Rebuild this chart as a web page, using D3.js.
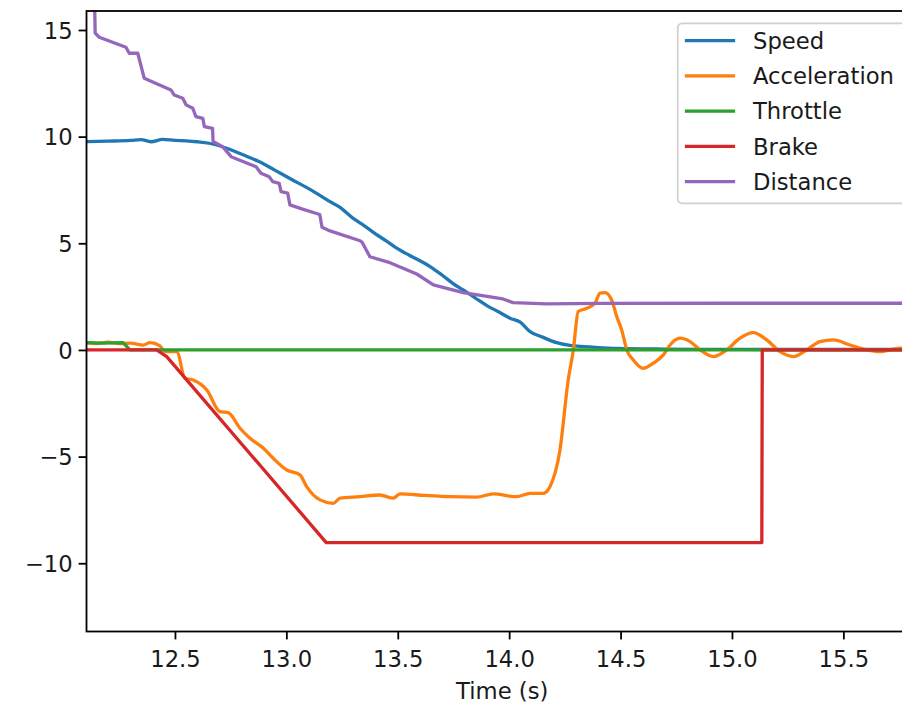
<!DOCTYPE html>
<html>
<head>
<meta charset="utf-8">
<script src="https://cdn.jsdelivr.net/npm/d3@7"></script>
<style>
html, body { margin: 0; padding: 0; background: #fff; overflow: hidden; }
svg { display: block; font-family: "DejaVu Sans", sans-serif; }
</style>
</head>
<body>
<svg id="chart" width="902" height="704"></svg>
<script>
// ---- data (time in s, value) ----
const seriesNames = ["Speed", "Acceleration", "Throttle", "Brake", "Distance"];
const seriesColors = ["#1f77b4", "#ff7f0e", "#2ca02c", "#d62728", "#9467bd"];

const speed = [
  [12.103, 9.77], [12.20, 9.79], [12.30, 9.82], [12.348, 9.86], [12.392, 9.76], [12.445, 9.87],
  [12.50, 9.82], [12.550, 9.80], [12.60, 9.76], [12.653, 9.69], [12.729, 9.47], [12.80, 9.17],
  [12.877, 8.83], [12.95, 8.42], [13.028, 7.97], [13.09, 7.62], [13.147, 7.27], [13.196, 6.95],
  [13.236, 6.72], [13.300, 6.17], [13.35, 5.82], [13.40, 5.44], [13.45, 5.10], [13.495, 4.77],
  [13.55, 4.45], [13.60, 4.18], [13.645, 3.91], [13.70, 3.50], [13.75, 3.10], [13.794, 2.81],
  [13.85, 2.42], [13.90, 2.08], [13.95, 1.80], [14.004, 1.49], [14.05, 1.30], [14.094, 0.86],
  [14.15, 0.60], [14.213, 0.34], [14.28, 0.20], [14.363, 0.14], [14.484, 0.07], [14.70, 0.04],
  [14.857, 0.03], [15.20, 0.02], [15.835, 0.02]
];

const acceleration = [
  [12.103, 0.34], [12.15, 0.30], [12.20, 0.36], [12.25, 0.30], [12.30, 0.32], [12.357, 0.23],
  [12.388, 0.34], [12.433, 0.19], [12.446, 0.0], [12.46, -0.08], [12.508, -0.08], [12.545, -1.33],
  [12.582, -1.41], [12.643, -1.88], [12.702, -2.89], [12.739, -2.94], [12.792, -3.67],
  [12.837, -4.14], [12.897, -4.61], [12.941, -5.08], [13.002, -5.63], [13.061, -5.86],
  [13.091, -6.41], [13.151, -7.03], [13.211, -7.19], [13.241, -6.95], [13.331, -6.88],
  [13.420, -6.80], [13.480, -6.95], [13.510, -6.75], [13.62, -6.82], [13.735, -6.88],
  [13.854, -6.90], [13.929, -6.75], [14.034, -6.88], [14.094, -6.72], [14.153, -6.72],
  [14.183, -6.41], [14.228, -4.69], [14.265, -1.41], [14.288, 0.0], [14.310, 1.80],
  [14.348, 1.95], [14.385, 2.19], [14.408, 2.66], [14.430, 2.69], [14.460, 2.34],
  [14.483, 1.56], [14.505, 0.94], [14.528, 0.0], [14.557, -0.47], [14.602, -0.86],
  [14.647, -0.62], [14.692, -0.23], [14.722, 0.23], [14.767, 0.55], [14.812, 0.39],
  [14.857, 0.0], [14.916, -0.31], [14.976, 0.0], [15.036, 0.55], [15.096, 0.81],
  [15.156, 0.47], [15.216, -0.08], [15.275, -0.31], [15.335, 0.0], [15.395, 0.39],
  [15.455, 0.47], [15.530, 0.23], [15.605, 0.0], [15.665, -0.08], [15.754, 0.08], [15.835, 0.05]
];

const throttle = [
  [12.103, 0.34], [12.18, 0.32], [12.267, 0.34], [12.298, 0.0], [15.835, 0.0]
];

const brake = [
  [12.103, 0.0], [12.418, 0.0], [12.463, -0.31], [13.179, -9.03], [15.134, -9.03],
  [15.136, 0.0], [15.835, 0.0]
];

const distance = [
  [12.103, 17.0], [12.138, 17.0], [12.142, 14.85], [12.160, 14.66], [12.280, 14.19],
  [12.295, 13.91], [12.333, 13.91], [12.362, 12.74], [12.482, 12.19], [12.497, 11.95],
  [12.535, 11.80], [12.550, 11.49], [12.580, 11.33], [12.594, 10.94], [12.625, 10.86],
  [12.632, 10.47], [12.669, 10.39], [12.671, 9.77], [12.714, 9.53], [12.752, 9.06],
  [12.864, 8.59], [12.886, 8.28], [12.923, 8.12], [12.939, 7.89], [12.968, 7.81],
  [12.976, 7.42], [13.006, 7.35], [13.016, 6.80], [13.073, 6.60], [13.15, 6.35],
  [13.16, 5.75], [13.196, 5.58], [13.331, 5.12], [13.34, 5.05], [13.375, 4.37],
  [13.465, 4.09], [13.585, 3.56], [13.660, 3.05], [13.794, 2.69], [13.972, 2.39],
  [14.017, 2.22], [14.169, 2.16], [14.408, 2.18], [15.0, 2.19], [15.835, 2.19]
];

const xTicks = [12.5, 13.0, 13.5, 14.0, 14.5, 15.0, 15.5];
const yTicks = [-10, -5, 0, 5, 10, 15];
const xLabel = "Time (s)";

// ---- layout ----
const svg = d3.select("#chart");
const mLeft = 86.5, mRight = 918, mTop = 11, mBottom = 631.5;
const fs = 22.7;

const x = d3.scaleLinear().domain([12.103, 15.835]).range([mLeft, mRight]);
const y = d3.scaleLinear().domain([-13.2, 15.89]).range([mBottom, mTop]);

svg.append("defs").append("clipPath").attr("id", "clip")
  .append("rect").attr("x", mLeft).attr("y", mTop).attr("width", mRight - mLeft).attr("height", mBottom - mTop);

const straight = d3.line().x(d => x(d[0])).y(d => y(d[1]));
const smooth = d3.line().x(d => x(d[0])).y(d => y(d[1])).curve(d3.curveMonotoneX);
const allSeries = [speed, acceleration, throttle, brake, distance];
const curves = [smooth, smooth, straight, straight, straight];

const plot = svg.append("g").attr("clip-path", "url(#clip)");
allSeries.forEach((s, i) => {
  plot.append("path").datum(s)
    .attr("d", curves[i])
    .attr("fill", "none")
    .attr("stroke", seriesColors[i])
    .attr("stroke-width", 3.3)
    .attr("stroke-linejoin", "round")
    .attr("stroke-linecap", "square");
});

// ---- axes ----
const fmtY = v => (v < 0 ? "\u2212" + Math.abs(v) : String(v));
const xAxis = d3.axisBottom(x).tickValues(xTicks).tickFormat(d3.format(".1f")).tickSizeInner(7.9).tickSizeOuter(0).tickPadding(6);
const yAxis = d3.axisLeft(y).tickValues(yTicks).tickFormat(fmtY).tickSizeInner(7.9).tickSizeOuter(0).tickPadding(6);

const gx = svg.append("g").attr("transform", `translate(0,${mBottom})`).call(xAxis);
const gy = svg.append("g").attr("transform", `translate(${mLeft},0)`).call(yAxis);
[gx, gy].forEach(g => {
  g.select(".domain").remove();
  g.selectAll(".tick line").attr("stroke", "#000").attr("stroke-width", 1.8);
  g.selectAll(".tick text").attr("fill", "#1a1a1a").style("font-size", fs + "px").style("font-family", "DejaVu Sans");
});
gx.selectAll(".tick text").attr("dy", "0.95em");
gy.selectAll(".tick text").attr("dy", "0.36em");

// spines
svg.append("rect").attr("x", mLeft).attr("y", mTop).attr("width", mRight - mLeft).attr("height", mBottom - mTop)
  .attr("fill", "none").attr("stroke", "#000").attr("stroke-width", 1.8);

svg.append("text").attr("x", (mLeft + mRight) / 2).attr("y", 698.5)
  .attr("text-anchor", "middle").style("font-size", fs + "px").attr("fill", "#1a1a1a").text(xLabel);

// ---- legend ----
const lg = svg.append("g");
lg.append("rect").attr("x", 677.7).attr("y", 23.3).attr("width", 240).attr("height", 180)
  .attr("rx", 4.5).attr("fill", "#fff").attr("fill-opacity", 0.8)
  .attr("stroke", "#d0d0d0").attr("stroke-width", 1.8);
const rowY = d3.scaleLinear().domain([0, 4]).range([40.7, 181.7]);
seriesNames.forEach((n, i) => {
  lg.append("line").attr("x1", 686.5).attr("x2", 733.5).attr("y1", rowY(i)).attr("y2", rowY(i))
    .attr("stroke", seriesColors[i]).attr("stroke-width", 3.3).attr("stroke-linecap", "square");
  lg.append("text").attr("x", 753).attr("y", rowY(i)).attr("dy", "0.36em")
    .style("font-size", fs + "px").attr("fill", "#1a1a1a").text(n);
});
</script>
</body>
</html>
